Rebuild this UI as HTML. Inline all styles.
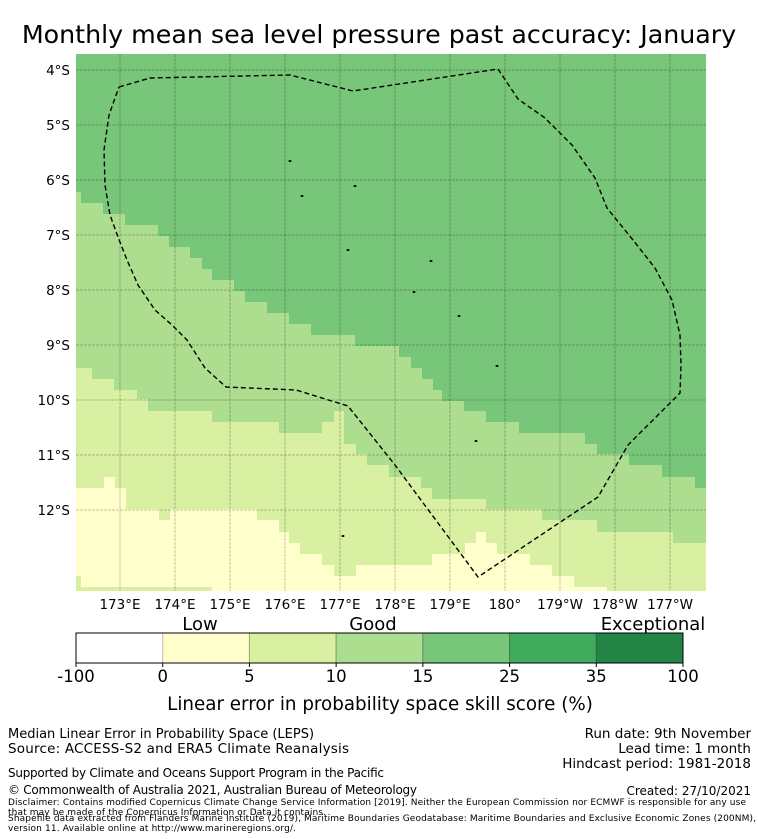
<!DOCTYPE html>
<html><head><meta charset="utf-8"><style>
html,body{margin:0;padding:0;background:#fff;}
svg{display:block;font-family:"DejaVu Sans","Liberation Sans",sans-serif;}
</style></head><body>
<svg id="c" width="758" height="839" viewBox="0 0 758 839" xmlns="http://www.w3.org/2000/svg">
<text x="379" y="43" text-anchor="middle" font-size="25.3">Monthly mean sea level pressure past accuracy: January</text>
<g id="map"></g>
<g id="axes"></g>
<g id="cbar"></g>
<text x="200" y="630" text-anchor="middle" font-size="18">Low</text>
<text x="373" y="630" text-anchor="middle" font-size="18">Good</text>
<text x="653" y="630" text-anchor="middle" font-size="18">Exceptional</text>
<text x="380" y="710" text-anchor="middle" font-size="18.3">Linear error in probability space skill score (%)</text>
<g font-size="13.5">
<text x="8" y="738" font-size="13">Median Linear Error in Probability Space (LEPS)</text>
<text x="8" y="753" textLength="341">Source: ACCESS-S2 and ERA5 Climate Reanalysis</text>
<text x="751" y="738" text-anchor="end">Run date: 9th November</text>
<text x="751" y="753" text-anchor="end">Lead time: 1 month</text>
<text x="751" y="768" text-anchor="end">Hindcast period: 1981-2018</text>
<text x="8" y="777" font-size="12" textLength="376">Supported by Climate and Oceans Support Program in the Pacific</text>
<text x="8" y="794" font-size="12" textLength="409">© Commonwealth of Australia 2021, Australian Bureau of Meteorology</text>
<text x="751" y="795" font-size="12" text-anchor="end">Created: 27/10/2021</text>
<text x="8" y="805" font-size="9" textLength="738">Disclaimer: Contains modified Copernicus Climate Change Service Information [2019]. Neither the European Commission nor ECMWF is responsible for any use</text>
<text x="8" y="815" font-size="9" textLength="318">that may be made of the Copernicus Information or Data it contains.</text>
<text x="8" y="821" font-size="9" textLength="748">Shapefile data extracted from Flanders Marine Institute (2019), Maritime Boundaries Geodatabase: Maritime Boundaries and Exclusive Economic Zones (200NM),</text>
<text x="8" y="831" font-size="9" textLength="288">version 11. Available online at http://www.marineregions.org/.</text>
</g>
</svg>
<script>
var NS="http://www.w3.org/2000/svg";
var lonLabels=["173°E","174°E","175°E","176°E","177°E","178°E","179°E","180°","179°W","178°W","177°W"];
var lonValues=[173,174,175,176,177,178,179,180,181,182,183];
var latLabels=["4°S","5°S","6°S","7°S","8°S","9°S","10°S","11°S","12°S"];
var latValues=[4,5,6,7,8,9,10,11,12];
var cbTicks=["-100","0","5","10","15","25","35","100"];
var cbColors=["#ffffff","#ffffcc","#d9f0a3","#addd8e","#78c679","#41ab5d","#238443"];
// band boundaries (map pixel staircase: [x_end, y])
var edgeDark=[[81,192],[103,203],[125,214],[158,225],[169,236],[190,247],[202,258],[212,269],[234,280],[245,291],[267,302],[289,313],[311,324],[355,335],[399,346],[411,357],[422,368],[433,379],[442,390],[464,401],[486,411],[519,422],[585,433],[597,444],[629,454],[662,465],[695,477],[706,488]];
var edgeMid=[[92,368],[114,379],[137,390],[148,399],[212,411],[279,422],[322,433],[334,422],[344,411],[356,444],[367,454],[389,465],[421,477],[432,488],[486,499],[542,509],[597,520],[673,532],[706,543]];
var edgeLight=[[104,488],[115,477],[126,488],[159,509],[170,520],[257,509],[279,520],[289,532],[300,543],[322,554],[334,565],[356,576],[432,565],[465,554],[476,543],[486,532],[497,543],[530,554],[552,565],[574,576],[607,587],[706,591]];
var eez=[[119,87],[150,78],[290,75],[353,91],[498,69],[518,99],[545,118],[572,145],[595,178],[607,208],[633,240],[655,268],[672,300],[680,335],[681,365],[680,393],[628,445],[598,497],[478,577],[438,523],[395,465],[348,406],[296,390],[226,387],[205,368],[187,340],[172,325],[155,310],[138,285],[127,260],[118,237],[110,215],[105,185],[104,150],[109,115],[119,87]];
var islands=[[290,161],[355,186],[302,196],[348,250],[431,261],[414,292],[459,316],[497,366],[476,441],[343,536]];
var X0=76,X1=706,Y0=54,Y1=591;
function lonX(l){return 120+55*(l-173);}
function latY(l){return 70+55*(l-4);}
function mk(t,a,p){var e=document.createElementNS(NS,t);for(var k in a)e.setAttribute(k,a[k]);p.appendChild(e);return e;}
var map=document.getElementById('map');
var bg=mk('rect',{x:X0,y:Y0,width:X1-X0,height:Y1-Y0,fill:'#ffffcc'},map);


function band(edge,color,name){
  var pts=[[X0,Y0],[X0,edge[0][1]]];var px=X0;
  for(var i=0;i<edge.length;i++){pts.push([px,edge[i][1]]);pts.push([edge[i][0],edge[i][1]]);px=edge[i][0];}
  pts.push([X1,Y0]);
  var p=mk('polygon',{points:pts.map(function(q){return q.join(',');}).join(' '),fill:color},map);
  
  
}
band(edgeLight,'#d9f0a3','band-5-10');
band(edgeMid,'#addd8e','band-10-15');
band(edgeDark,'#78c679','band-15-25');
var s1=mk('rect',{x:76,y:576,width:5,height:15,fill:'#d9f0a3'},map);


var s2=mk('rect',{x:81,y:587,width:131,height:4,fill:'#d9f0a3'},map);


var ax=document.getElementById('axes');
lonValues.forEach(function(v,i){
  var x=lonX(v);
  var l=mk('line',{x1:x,x2:x,y1:Y0,y2:Y1,stroke:'#000','stroke-opacity':0.3,'stroke-width':0.8,'stroke-dasharray':'3,1'},ax);
  
  
  var t=mk('text',{x:x,y:609,'text-anchor':'middle','font-size':13.5},ax);t.textContent=lonLabels[i];
  
  
});
latValues.forEach(function(v,i){
  var y=latY(v);
  var l=mk('line',{x1:X0,x2:X1,y1:y,y2:y,stroke:'#000','stroke-opacity':0.3,'stroke-width':0.8,'stroke-dasharray':'3,1'},ax);
  
  
  var t=mk('text',{x:70,y:y+5,'text-anchor':'end','font-size':13.5},ax);t.textContent=latLabels[i];
  
  
});
islands.forEach(function(q){
  var e=mk('ellipse',{cx:q[0],cy:q[1],rx:1.5,ry:1,fill:'#000'},ax);
  
  
});
var ez=mk('polyline',{points:eez.map(function(q){return q.join(',');}).join(' '),fill:'none',stroke:'#000','stroke-width':1.4,'stroke-dasharray':'5,3'},ax);


var cb=document.getElementById('cbar');
var cx0=76,cx1=683,cy=633,ch=30,w=(cx1-cx0)/cbColors.length;
cbColors.forEach(function(c,i){
  var r=mk('rect',{x:cx0+i*w,y:cy,width:w,height:ch,fill:c,stroke:c==='#ffffff'?'none':'rgba(0,0,0,0.25)','stroke-width':1},cb);
  
  
});
var fr=mk('rect',{x:cx0,y:cy,width:cx1-cx0,height:ch,fill:'none',stroke:'#000','stroke-width':1},cb);


cbTicks.forEach(function(t,i){
  var x=cx0+i*w;
  var l=mk('line',{x1:x,x2:x,y1:cy+ch,y2:cy+ch+4,stroke:'#000'},cb);
  
  
  var tx=mk('text',{x:x,y:682,'text-anchor':'middle','font-size':16.5},cb);tx.textContent=t;
  
  
});
</script>
</body></html>
